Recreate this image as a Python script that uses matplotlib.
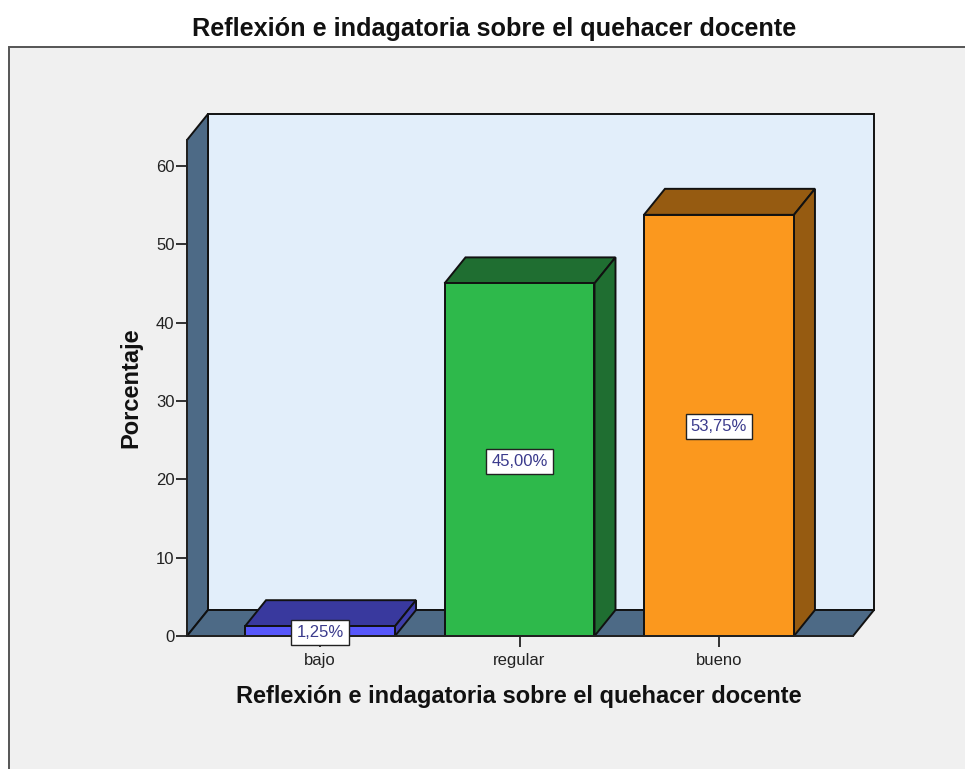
import matplotlib
matplotlib.use('Agg')
import matplotlib.pyplot as plt
from matplotlib.patches import Rectangle

plt.rcParams['font.family'] = ['Liberation Sans', 'DejaVu Sans']

categorias = ['bajo', 'regular', 'bueno']
porcentajes = [1.25, 45.00, 53.75]
etiquetas = ['1,25%', '45,00%', '53,75%']
y_ticks = [0, 10, 20, 30, 40, 50, 60]
titulo = 'Reflexión e indagatoria sobre el quehacer docente'

color_frente = ['#5757FB', '#2EB94B', '#FB981E']
color_arriba = ['#39399E', '#1F6E31', '#965B11']
color_lado = ['#3E3EA9', '#1F6E31', '#965B11']
color_pared = '#4D6A86'
color_fondo = '#E2EEFA'
color_panel = '#F0F0F0'
borde = '#111111'

W, H = 965, 769
fig = plt.figure(figsize=(W / 100, H / 100), dpi=100, facecolor='white')

# panel gris de fondo
fig.patches.append(Rectangle((9 / W, -0.01), 1.0, (H - 47) / H + 0.01, transform=fig.transFigure,
                             facecolor=color_panel, edgecolor='#555555', linewidth=1.4, zorder=-1))

ax = fig.add_axes([187 / W, (H - 636) / H, (853 - 187) / W, (636 - 140) / H])
ax.patch.set_alpha(0)
x0, x1 = -0.667, 2.672
y0, y1 = 0, 63.3
ax.set_xlim(x0, x1)
ax.set_ylim(y0, y1)

# profundidad del efecto 3D
dx = 21 / 199.5
dy = 26 / 7.833
ancho = 0.752
lw = 1.4

# paredes
ax.fill([x0 + dx, x1 + dx, x1 + dx, x0 + dx], [dy, dy, y1 + dy, y1 + dy],
        facecolor=color_fondo, edgecolor=borde, linewidth=lw, clip_on=False, zorder=1)
ax.fill([x0, x0 + dx, x0 + dx, x0], [y0, dy, y1 + dy, y1],
        facecolor=color_pared, edgecolor=borde, linewidth=lw, clip_on=False, zorder=1)
ax.fill([x0, x1, x1 + dx, x0 + dx], [y0, y0, dy, dy],
        facecolor=color_pared, edgecolor=borde, linewidth=lw, clip_on=False, zorder=1)

# barras
posiciones = list(range(len(categorias)))
for p, v, cf, ca, cl in zip(posiciones, porcentajes, color_frente, color_arriba, color_lado):
    iz = p - ancho / 2
    de = p + ancho / 2
    ax.fill([iz, de, de + dx, iz + dx], [v, v, v + dy, v + dy],
            facecolor=ca, edgecolor=borde, linewidth=lw, clip_on=False, zorder=2)
    ax.fill([de, de + dx, de + dx, de], [0, dy, v + dy, v],
            facecolor=cl, edgecolor=borde, linewidth=lw, clip_on=False, zorder=2)
ax.bar(posiciones, porcentajes, width=ancho, color=color_frente, edgecolor=borde,
       linewidth=lw, zorder=3, clip_on=False)

# etiquetas de valor
for p, v, t in zip(posiciones, porcentajes, etiquetas):
    ax.text(p, v / 2, t, ha='center', va='center_baseline', fontsize=12, color='#3A3A8C', zorder=5,
            bbox=dict(boxstyle='square,pad=0.3', facecolor='white', edgecolor='#222222', linewidth=1))

for lado in ['top', 'right']:
    ax.spines[lado].set_visible(False)
for lado in ['left', 'bottom']:
    ax.spines[lado].set_color('#222222')
    ax.spines[lado].set_linewidth(1.4)
    ax.spines[lado].set_zorder(4)

ax.set_xticks(posiciones)
ax.set_xticklabels(categorias)
ax.set_yticks(y_ticks)
ax.tick_params(axis='both', length=8, width=1.3, color='#222222', labelcolor='#222222',
               labelsize=12, pad=1)
ax.tick_params(axis='x', pad=4)

ax.set_xlabel(titulo, fontsize=17, fontweight='bold', color='#111111', labelpad=0)
ax.xaxis.set_label_coords((519 - 187) / (853 - 187), -(697 - 636) / (636 - 140), transform=ax.transAxes)
ax.xaxis.label.set_va('center')
ax.set_ylabel('Porcentaje', fontsize=17, fontweight='bold', color='#111111')
ax.yaxis.set_label_coords(-(187 - 131) / (853 - 187), (636 - 388) / (636 - 140), transform=ax.transAxes)
ax.yaxis.label.set_va('center')

fig.text(494 / W, (H - 29) / H, titulo, ha='center', va='center', fontsize=18.2,
         fontweight='bold', color='#111111')

fig.savefig('out.png', dpi=100)
